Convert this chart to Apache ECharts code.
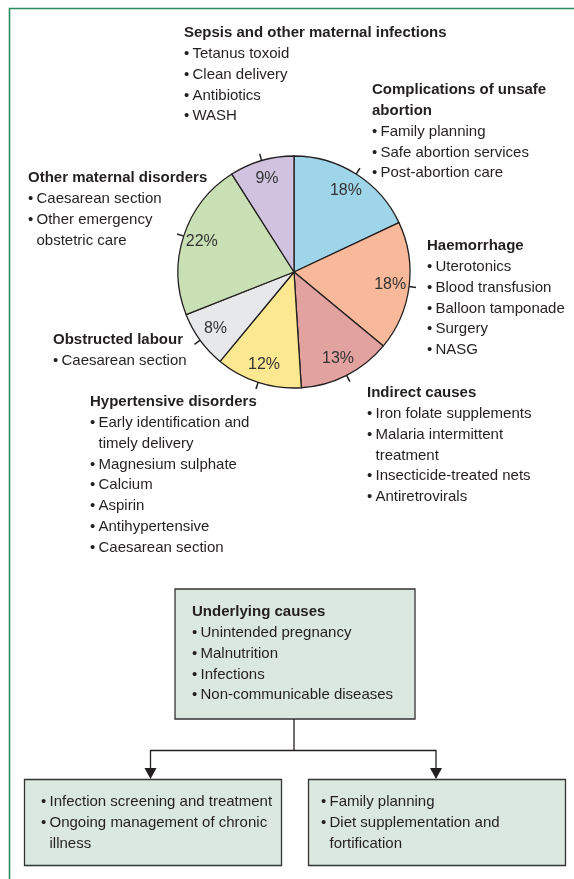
<!DOCTYPE html>
<html>
<head>
<meta charset="utf-8">
<script src="https://cdn.jsdelivr.net/npm/echarts@6/dist/echarts.min.js"></script>
<style>
html,body{margin:0;padding:0;background:#fff;}
#chart{width:574px;height:879px;}
</style>
</head>
<body>
<div id="chart"></div>
<script>
// ---- data ----
const causes = ['Complications of unsafe abortion','Haemorrhage','Indirect causes','Hypertensive disorders','Obstructed labour','Other maternal disorders','Sepsis and other maternal infections'];
const shares = [18, 18, 13, 12, 8, 22, 9];

const sepsisTitle = ['Sepsis and other maternal infections'];
const sepsisItems = [['Tetanus toxoid'], ['Clean delivery'], ['Antibiotics'], ['WASH']];
const abortionTitle = ['Complications of unsafe', 'abortion'];
const abortionItems = [['Family planning'], ['Safe abortion services'], ['Post-abortion care']];
const haemTitle = ['Haemorrhage'];
const haemItems = [['Uterotonics'], ['Blood transfusion'], ['Balloon tamponade'], ['Surgery'], ['NASG']];
const indirectTitle = ['Indirect causes'];
const indirectItems = [['Iron folate supplements'], ['Malaria intermittent', 'treatment'], ['Insecticide-treated nets'], ['Antiretrovirals']];
const hyperTitle = ['Hypertensive disorders'];
const hyperItems = [['Early identification and', 'timely delivery'], ['Magnesium sulphate'], ['Calcium'], ['Aspirin'], ['Antihypertensive'], ['Caesarean section']];
const obstructedTitle = ['Obstructed labour'];
const obstructedItems = [['Caesarean section']];
const otherTitle = ['Other maternal disorders'];
const otherItems = [['Caesarean section'], ['Other emergency', 'obstetric care']];
const underlyingTitle = ['Underlying causes'];
const underlyingItems = [['Unintended pregnancy'], ['Malnutrition'], ['Infections'], ['Non-communicable diseases']];
const leftBoxItems = [['Infection screening and treatment'], ['Ongoing management of chronic', 'illness']];
const rightBoxItems = [['Family planning'], ['Diet supplementation and', 'fortification']];

// ---- styles / layout ----
const FONT = "'Liberation Sans Narrow', 'Arial Narrow', 'Liberation Sans', sans-serif";
const TXT = '#231f20';
const FS = 15;
const LH = 20.8;
const sliceColors = ['#9fd5e8', '#f8b99b', '#e2a29f', '#fde892', '#e7e8ea', '#c9e0b4', '#d1c3df'];
const boxFill = '#dbe8e0';
const frameColor = '#2a8c5c';

const blocks = [
  {title: sepsisTitle, items: sepsisItems, x: 184, y: 33},
  {title: abortionTitle, items: abortionItems, x: 372, y: 90},
  {title: haemTitle, items: haemItems, x: 427, y: 246},
  {title: indirectTitle, items: indirectItems, x: 367, y: 393},
  {title: hyperTitle, items: hyperItems, x: 90, y: 402},
  {title: obstructedTitle, items: obstructedItems, x: 53, y: 340},
  {title: otherTitle, items: otherItems, x: 28, y: 178},
  {title: underlyingTitle, items: underlyingItems, x: 192, y: 612},
  {title: [], items: leftBoxItems, x: 41, y: 802},
  {title: [], items: rightBoxItems, x: 321, y: 802}
];

const graphics = [];
function addText(x, y, text, bold) {
  graphics.push({
    type: 'text', x: x, y: y, silent: true,
    style: {text: text, fill: TXT, font: (bold ? 'bold ' : '') + FS + 'px ' + FONT, textVerticalAlign: 'middle', textAlign: 'left'}
  });
}
blocks.forEach(b => {
  let y = b.y;
  b.title.forEach(t => { addText(b.x, y, t, true); y += LH; });
  b.items.forEach(it => {
    addText(b.x, y, '\u2022', false);
    it.forEach(line => { addText(b.x + 8.5, y, line, false); y += LH; });
  });
});

// boxes
const boxes = [
  {x: 175, y: 589, w: 240, h: 130},
  {x: 24.5, y: 779.5, w: 257, h: 86},
  {x: 308.5, y: 779.5, w: 257, h: 86}
];
boxes.forEach(r => {
  graphics.unshift({type: 'rect', silent: true, shape: {x: r.x, y: r.y, width: r.w, height: r.h},
    style: {fill: boxFill, stroke: '#333', lineWidth: 1.3}});
});
// connectors
const lineStyle = {stroke: '#231f20', lineWidth: 1.3, fill: null};
graphics.push({type: 'polyline', silent: true, shape: {points: [[294, 719], [294, 750.5]]}, style: lineStyle});
graphics.push({type: 'polyline', silent: true, shape: {points: [[150.5, 769], [150.5, 750.5], [436, 750.5], [436, 769]]}, style: lineStyle});
[150.5, 436].forEach(ax => {
  graphics.push({type: 'polygon', silent: true, shape: {points: [[ax - 6, 768], [ax + 6, 768], [ax, 779]]}, style: {fill: '#231f20'}});
});
// frame
graphics.push({type: 'polyline', silent: true, shape: {points: [[9.5, 879], [9.5, 8.5], [574, 8.5]]}, style: {stroke: frameColor, lineWidth: 1.6, fill: null}});

const pieData = causes.map((c, i) => ({name: c, value: shares[i], itemStyle: {color: sliceColors[i]}}));

const chart = echarts.init(document.getElementById('chart'), null, {renderer: 'canvas'});
chart.setOption({
  backgroundColor: '#fff',
  animation: false,
  series: [
    {
      type: 'pie', center: [294, 272], radius: 116, startAngle: 90, clockwise: true,
      avoidLabelOverlap: false, silent: true,
      data: pieData,
      itemStyle: {borderColor: '#231f20', borderWidth: 1.3},
      label: {show: true, position: 'outside', formatter: ' ', fontSize: 10},
      labelLine: {show: true, length: 7, length2: 0, smooth: false, lineStyle: {color: '#231f20', width: 1.5, opacity: 1}},
      emphasis: {disabled: true}
    },
    {
      type: 'pie', center: [294, 272], radius: [72, 116], startAngle: 90, clockwise: true,
      avoidLabelOverlap: false, silent: true,
      data: causes.map((c, i) => ({name: c, value: shares[i]})),
      itemStyle: {color: 'rgba(0,0,0,0)', borderWidth: 0},
      label: {show: true, position: 'inside', formatter: '{c}%', fontSize: 16, color: '#333', fontFamily: FONT},
      labelLine: {show: false},
      emphasis: {disabled: true}
    }
  ],
  graphic: graphics
});
</script>
</body>
</html>
